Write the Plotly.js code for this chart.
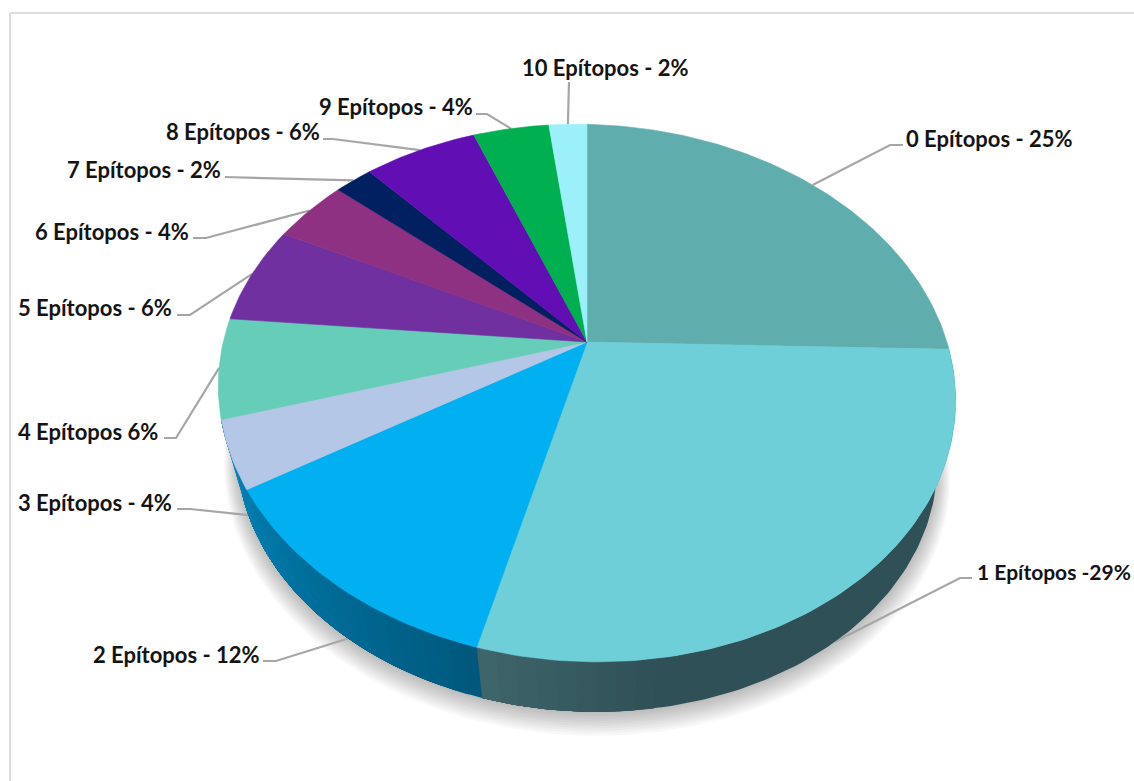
<!DOCTYPE html>
<html>
<head>
<meta charset="utf-8">
<script src="https://cdn.plot.ly/plotly-3.0.1.min.js"></script>
<style>html,body{margin:0;padding:0;background:#fff;overflow:hidden}#chart{width:1134px;height:781px}</style>
</head>
<body>
<div id="chart"></div>
<script>
// Share of antigens per number of epitopes
const categories = ["0 Epítopos","1 Epítopos","2 Epítopos","3 Epítopos","4 Epítopos","5 Epítopos","6 Epítopos","7 Epítopos","8 Epítopos","9 Epítopos","10 Epítopos"];
const percentages = [25,29,12,4,6,6,4,2,6,4,2];
const labelTexts = ["0 Epítopos - 25%","1 Epítopos -29%","2 Epítopos - 12%","3 Epítopos - 4%","4 Epítopos 6%","5 Epítopos - 6%","6 Epítopos - 4%","7 Epítopos - 2%","8 Epítopos - 6%","9 Epítopos - 4%","10 Epítopos - 2%"];
const sliceColors = ["#5fadad","#6ecfd9","#00b0f0","#b4c7e7","#66cdb8","#7030a0","#8f3182","#002060","#610fb5","#00b050","#9bf0f9"];

// Label layout: elbow of the leader line, end next to the text, text start, centre height, font size
const elbowX = [890,960,276,190,176,190,206,237,333,487,569];
const elbowY = [145,578,661,509,438,315,238,177,139,114,82];
const stubX  = [903,972,263,177,164,177,193,225,323,476,569];
const textX  = [904,975,91,16,16,16,33,65,164,317,520];
const textY  = [138,571,654,502,431,307,231,169,131,106,67];
const textSize = [22,21,22,22,22,22,22,22,22,22,22];
const onWall = [false,true,true,true,false,false,false,false,false,false,false];

// Perspective model of the tilted disc
const cx = 587, cy = 342, radX = 362, radY = 259, persp = 0.19, tilt = 0.02;
const wallScale = 0.95, wallDrop = 66;

function rim(turn, scale, drop) {
  const a = turn * 2 * Math.PI;
  const X = Math.sin(a), Y = Math.cos(a), w = 1 + persp * Y;
  const dx = radX * X / w * scale;
  const dy = -radY * Y / w * scale;
  return [cx + dx, cy + dy + drop + tilt * dx];
}
function arc(t0, t1, scale, drop) {
  const n = Math.max(2, Math.ceil((t1 - t0) * 360));
  const pts = [];
  for (let i = 0; i <= n; i++) pts.push(rim(t0 + (t1 - t0) * i / n, scale, drop));
  return pts;
}
function poly(pts, color, edge) {
  return {type:"scatter", mode:"lines", x:pts.map(p=>p[0]), y:pts.map(p=>p[1]),
          fill:"toself", fillcolor:color, line:{width:edge||0, color:color}, hoverinfo:"skip", showlegend:false};
}

const total = percentages.reduce((a,b)=>a+b,0);
const starts = [], ends = [];
percentages.reduce((acc,v,i)=>{starts[i]=acc/total; ends[i]=(acc+v)/total; return acc+v;},0);

const traces = [];

// Soft drop shadow under the wall
for (let i = 9; i >= 0; i--) {
  const grow = i * 2;
  traces.push(poly(arc(0,1,wallScale + grow/520, wallDrop + 2 + grow*0.6), "rgba(0,0,0,0.026)"));
}

// Leader lines, drawn before the disc so they stop at its edge
categories.forEach((c,i)=>{
  const mid = (starts[i]+ends[i])/2;
  const p = onWall[i] ? rim(mid, wallScale, wallDrop) : rim(mid, 1, 0);
  traces.push({type:"scatter", mode:"lines", x:[p[0],elbowX[i],stubX[i]], y:[p[1],elbowY[i],elbowY[i]],
    line:{color:"#a6a6a6", width:2.2}, hoverinfo:"skip", showlegend:false});
});

// Wall gradient: each step paints from its start to the far end of the wall,
// so the next step overlaps it and no seams appear between steps.
function mix(a,b,f){return a.map((v,k)=>Math.round(v+(b[k]-v)*f));}
const wallDark1 = [46,80,86], wallLight1 = [63,102,107];
const wallDark2 = [0,88,124], wallLight2 = [0,134,186];
function wallBand(ta, tb, col) {
  const top = arc(ta,tb,1,0), bot = arc(ta,tb,wallScale,wallDrop).reverse();
  traces.push(poly(top.concat(bot), `rgb(${col.join(",")})`));
}
const bands1 = 40;
for (let b = 0; b < bands1; b++) {
  const f = (b+0.5)/bands1;
  const col = f < 0.78 ? wallDark1 : mix(wallDark1, wallLight1, (f-0.78)/0.22);
  if (f < 0.78 && b > 0) continue;
  wallBand(starts[1]+(ends[1]-starts[1])*b/bands1, ends[1], col);
}
const bands2 = 30, wallEnd2 = ends[3];
for (let b = 0; b < bands2; b++) {
  const f = (b+0.5)/bands2;
  wallBand(starts[2]+(wallEnd2-starts[2])*b/bands2, wallEnd2, mix(wallDark2, wallLight2, f));
}

// Top face of the pie
categories.forEach((c,i)=>{
  const pts = [[cx,cy]].concat(arc(starts[i],ends[i],1,0));
  pts.push([cx,cy]);
  traces.push(poly(pts, sliceColors[i], 0.6));
});

const annotations = labelTexts.map((t,i)=>({
  text:t, x:textX[i], y:textY[i], xref:"x", yref:"y", xanchor:"left", yanchor:"middle", showarrow:false,
  font:{family:"Lato, Carlito, sans-serif", size:textSize[i], weight:700, color:"#141414"}
}));

const layout = {
  width:1134, height:781, margin:{l:0,r:0,t:0,b:0}, showlegend:false,
  paper_bgcolor:"#fff", plot_bgcolor:"#fff",
  xaxis:{range:[0,1134], visible:false, fixedrange:true},
  yaxis:{range:[781,0], visible:false, fixedrange:true},
  annotations:annotations,
  shapes:[
    {type:"line", xref:"x", yref:"y", x0:10, x1:1134, y0:13, y1:13, line:{color:"#dedede", width:2}},
    {type:"line", xref:"x", yref:"y", x0:10, x1:10, y0:13, y1:781, line:{color:"#dedede", width:2}}
  ]
};
Plotly.newPlot("chart", traces, layout, {displayModeBar:false, staticPlot:true});
</script>
</body>
</html>
